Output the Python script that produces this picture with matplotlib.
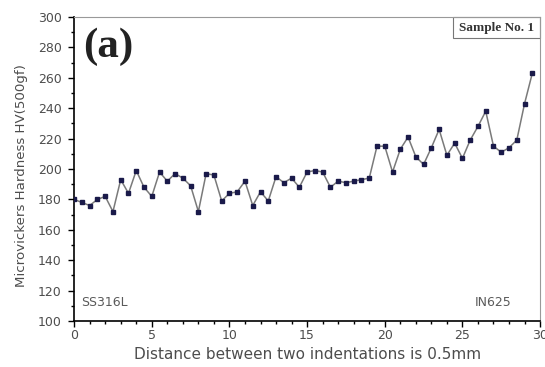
import matplotlib.pyplot as plt
from matplotlib.ticker import MultipleLocator
from matplotlib.patches import Rectangle

# Indentation positions (mm) and measured hardness values
distance = [i * 0.5 for i in range(60)]
hardness = [
    180, 178, 176, 180, 182, 172, 193, 184, 199, 188,
    182, 198, 192, 197, 194, 189, 172, 197, 196, 179,
    184, 185, 192, 176, 185, 179, 195, 191, 194, 188,
    198, 199, 198, 188, 192, 191, 192, 193, 194, 215,
    215, 198, 213, 221, 208, 203, 214, 226, 209, 217,
    207, 219, 228, 238, 215, 211, 214, 219, 243, 263,
]

x_ticks = [0, 5, 10, 15, 20, 25, 30]
y_ticks = list(range(100, 301, 20))


def main():
    plt.rcParams["font.family"] = ["DejaVu Sans"]
    fig = plt.figure(figsize=(5.45, 3.67), dpi=100)
    ax = fig.add_axes([0.136, 0.125, 0.855, 0.829])

    ax.plot(distance, hardness, color="#7a7a7a", lw=1.1, zorder=2)
    ax.plot(distance, hardness, ls="none", marker="s", ms=3.5,
            color="#1a1a4a", zorder=3)

    ax.set_xlim(0, 30)
    ax.set_ylim(100, 300)
    ax.set_xticks(x_ticks)
    ax.set_yticks(y_ticks)
    ax.xaxis.set_minor_locator(MultipleLocator(1))
    ax.yaxis.set_minor_locator(MultipleLocator(10))
    ax.tick_params(which="major", direction="out", length=4, width=1.0,
                   labelsize=9, labelcolor="#4d4d4d")
    ax.tick_params(axis="y", which="major", pad=5)
    ax.tick_params(axis="x", which="major", pad=2)
    ax.tick_params(which="minor", direction="out", length=2.5, width=1.0)
    ax.tick_params(top=False, right=False, which="both")

    for side in ("left", "bottom"):
        ax.spines[side].set_linewidth(1.2)
    for side in ("top", "right"):
        ax.spines[side].set_color("#999999")
        ax.spines[side].set_linewidth(0.8)

    ax.set_xlabel("Distance between two indentations is 0.5mm",
                  fontsize=11, color="#4d4d4d", labelpad=3)
    ax.set_ylabel("Microvickers Hardness HV(500gf)",
                  fontsize=9.6, color="#4d4d4d")
    ax.yaxis.set_label_coords(-0.10, 0.477)

    # Panel tag and sample label
    ax.text(0.02, 0.965, "(a)", transform=ax.transAxes, fontsize=31,
            fontweight="bold", family="Liberation Serif", va="top",
            color="#222222")
    ax.add_patch(Rectangle((0.813, 0.93), 0.187, 0.07, transform=ax.transAxes,
                           fill=False, edgecolor="#777777", lw=0.8,
                           clip_on=False))
    ax.text(0.906, 0.965, "Sample No. 1", transform=ax.transAxes,
            fontsize=9.5, fontweight="bold", family="Liberation Serif",
            ha="center", va="center", color="#333333")

    ax.text(0.014, 0.06, "SS316L", transform=ax.transAxes, fontsize=9,
            color="#5a5a5a", va="center")
    ax.text(0.86, 0.06, "IN625", transform=ax.transAxes, fontsize=9,
            color="#5a5a5a", va="center")

    fig.savefig("out.png", dpi=100)


if __name__ == "__main__":
    main()
